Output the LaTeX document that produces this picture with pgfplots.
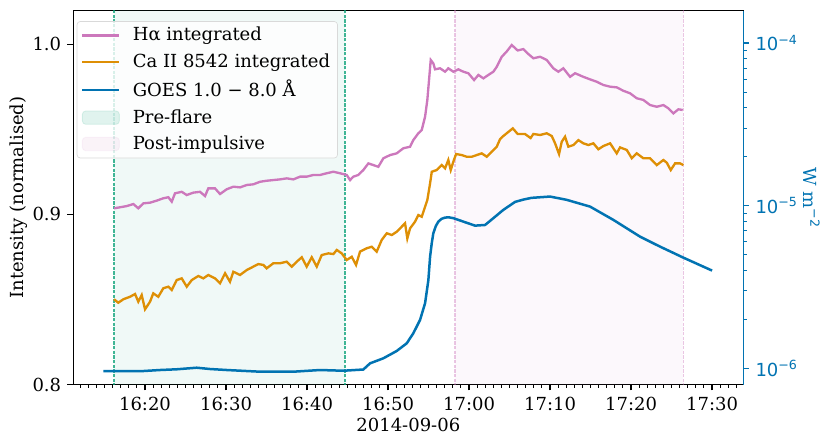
\documentclass[border=0pt]{standalone}
\usepackage{fontspec}
\setmainfont{DejaVu Serif}
\setsansfont{DejaVu Sans}
\usepackage{pgfplots}
\pgfplotsset{compat=1.18}
\definecolor{pinkc}{HTML}{CC78BC}
\definecolor{orangec}{HTML}{DE8F05}
\definecolor{bluec}{HTML}{0173B2}
\definecolor{greenc}{HTML}{029E73}
\begin{document}
\fontsize{10.8}{13}\selectfont
\begin{tikzpicture}
\begin{axis}[name=main, scale only axis, width=402pt, height=224.3pt,
  xmin=11.15, xmax=93.86, ymin=0.8, ymax=1.0198,
  axis line style={line width=0.8pt, black},
  xtick={20,30,40,50,60,70,80,90},
  xticklabels={16:20,16:30,16:40,16:50,17:00,17:10,17:20,17:30},
  minor xtick={12,13,...,93},
  ytick={0.8,0.9,1.0}, yticklabels={0.8,0.9,1.0},
  xtick pos=bottom, ytick pos=left,
  tick align=outside, major tick length=3.5pt, minor tick length=2pt,
  major tick style={black, line width=0.8pt},
  minor tick style={black, line width=0.6pt},
  xlabel={2014-09-06}, ylabel={Intensity (normalised)},
  xlabel style={at={(axis description cs:0.5,-0.108)}, anchor=center},
  ylabel style={at={(axis description cs:-0.0821,0.5)}, anchor=center},
  /pgf/number format/assume math mode=true,
  legend cell align=left,
  legend style={at={(axis description cs:0.005,0.972)}, anchor=north west,
    draw=black!15, rounded corners=2pt, fill=white, fill opacity=0.8, text opacity=1,
    inner xsep=2.5pt, inner ysep=2pt, row sep=3pt, column sep=5.4pt,
    nodes={inner ysep=1.5pt}},
]
\addlegendimage{legend image code/.code={\draw[pinkc,line width=1.4pt] (0pt,0pt) -- (22.2pt,0pt);}}
\addlegendentry{Hα integrated}
\addlegendimage{legend image code/.code={\draw[orangec,line width=1.4pt] (0pt,0pt) -- (22.2pt,0pt);}}
\addlegendentry{Ca II 8542 integrated}
\addlegendimage{legend image code/.code={\draw[bluec,line width=1.4pt] (0pt,0pt) -- (22.2pt,0pt);}}
\addlegendentry{GOES 1.0 − 8.0 Å}
\addlegendimage{legend image code/.code={\path[fill=greenc, fill opacity=0.12, draw=greenc, draw opacity=0.12, line width=0.5pt] (0pt,-4pt) rectangle (22.2pt,4pt);}}
\addlegendentry{Pre-flare}
\addlegendimage{legend image code/.code={\path[fill=pinkc, fill opacity=0.09, draw=pinkc, draw opacity=0.08, line width=0.5pt] (0pt,-4pt) rectangle (22.2pt,4pt);}}
\addlegendentry{Post-impulsive}

% shaded intervals
\addplot[forget plot, draw=none, fill=greenc, fill opacity=0.06] coordinates {(16.17,0.7) (44.7,0.7) (44.7,1.1) (16.17,1.1)} -- cycle;
\addplot[forget plot, draw=none, fill=pinkc, fill opacity=0.05] coordinates {(58.27,0.7) (86.46,0.7) (86.46,1.1) (58.27,1.1)} -- cycle;
\addplot[forget plot, greenc, draw opacity=0.75, line width=0.8pt, dash pattern=on 1.9pt off 0.9pt] coordinates {(16.17,0.7) (16.17,1.1)};
\addplot[forget plot, greenc, draw opacity=0.75, line width=0.8pt, dash pattern=on 1.9pt off 0.9pt] coordinates {(44.7,0.7) (44.7,1.1)};
\addplot[forget plot, pinkc, draw opacity=0.42, line width=0.7pt, dash pattern=on 1.9pt off 0.9pt] coordinates {(58.27,0.7) (58.27,1.1)};
\addplot[forget plot, pinkc, draw opacity=0.42, line width=0.7pt, dash pattern=on 1.9pt off 0.9pt] coordinates {(86.46,0.7) (86.46,1.1)};

% H-alpha
\addplot[forget plot, pinkc, line width=1.4pt] coordinates {
(16.17,0.9036)(16.91,0.9042)(17.74,0.9049)(18.56,0.9061)(19.17,0.9036)(19.79,0.9065)(20.62,0.9069)(21.44,0.9081)(22.26,0.9095)(22.88,0.9101)(23.30,0.9075)(23.70,0.9124)(24.53,0.9133)(25.15,0.9114)(25.96,0.9128)(26.79,0.9133)(27.41,0.9108)(27.81,0.9153)(28.64,0.9153)(29.26,0.9120)(30.09,0.9148)(30.90,0.9163)(31.73,0.9159)(32.56,0.9173)(33.37,0.9177)(34.20,0.9192)(35.02,0.9198)(35.84,0.9202)(36.67,0.9206)(37.49,0.9212)(38.31,0.9206)(39.14,0.9222)(39.96,0.9222)(40.78,0.9232)(41.60,0.9232)(42.43,0.9242)(43.25,0.9251)(44.07,0.9242)(44.90,0.9232)(45.31,0.9202)(45.72,0.9222)(46.33,0.9232)(46.95,0.9261)(47.57,0.9300)(48.19,0.9290)(48.80,0.9280)(49.42,0.9330)(50.25,0.9349)(51.07,0.9359)(51.89,0.9389)(52.72,0.9398)(53.12,0.9437)(53.74,0.9477)(54.16,0.9496)(54.57,0.9574)(54.85,0.9673)(55.06,0.9790)(55.27,0.9908)(55.59,0.9888)(55.80,0.9853)(56.42,0.9859)(57.04,0.9839)(57.44,0.9859)(58.06,0.9839)(58.68,0.9853)(59.30,0.9839)(59.91,0.9830)(60.62,0.9790)(61.15,0.9820)(61.77,0.9800)(62.38,0.9820)(63.00,0.9839)(63.42,0.9868)(64.04,0.9927)(64.65,0.9958)(65.27,0.9996)(66.0,0.9964)(66.7,0.9972)(67.32,0.9943)(67.94,0.9918)(68.77,0.9927)(69.59,0.9908)(70.41,0.9859)(71.02,0.9839)(71.64,0.9859)(72.47,0.9809)(73.09,0.9830)(74.11,0.9809)(74.94,0.9794)(75.77,0.9780)(76.58,0.9761)(77.41,0.9751)(78.23,0.9747)(79.05,0.9727)(79.88,0.9712)(80.70,0.9683)(81.52,0.9673)(82.35,0.9643)(83.17,0.9633)(83.99,0.9643)(84.60,0.9624)(85.22,0.9594)(85.84,0.9618)(86.38,0.9614)
};
% Ca II 8542
\addplot[forget plot, orangec, line width=1.4pt] coordinates {
(16.17,0.8501)(16.70,0.8481)(17.32,0.8501)(18.15,0.8516)(18.77,0.8532)(19.17,0.8487)(19.59,0.8526)(20.00,0.8442)(20.62,0.8487)(21.02,0.8536)(21.64,0.8516)(22.26,0.8566)(22.88,0.8575)(23.30,0.8556)(23.91,0.8614)(24.53,0.8624)(25.15,0.8575)(25.77,0.8614)(26.58,0.8638)(27.20,0.8624)(27.81,0.8644)(28.64,0.8624)(29.26,0.8595)(29.88,0.8654)(30.49,0.8604)(30.90,0.8663)(31.73,0.8644)(32.56,0.8673)(33.37,0.8693)(33.99,0.8708)(34.60,0.8703)(35.02,0.8683)(35.84,0.8713)(36.67,0.8713)(37.49,0.8722)(38.11,0.8693)(38.73,0.8722)(39.35,0.8748)(39.96,0.8693)(40.58,0.8748)(41.20,0.8693)(41.81,0.8761)(42.63,0.8771)(43.25,0.8767)(43.67,0.8791)(44.28,0.8771)(44.90,0.8732)(45.52,0.8751)(46.05,0.8703)(46.54,0.8781)(47.37,0.8801)(47.99,0.8810)(48.60,0.8781)(49.22,0.8850)(49.84,0.8889)(50.46,0.8879)(51.07,0.8898)(51.69,0.8928)(52.10,0.8948)(52.38,0.8859)(52.72,0.8918)(53.33,0.8957)(53.74,0.8996)(54.16,0.8986)(54.57,0.9045)(54.85,0.9085)(55.19,0.9183)(55.40,0.9251)(56.01,0.9261)(56.63,0.9290)(57.04,0.9271)(57.44,0.9320)(57.74,0.9261)(58.06,0.9310)(58.40,0.9355)(59.10,0.9349)(59.72,0.9339)(60.33,0.9339)(60.95,0.9349)(61.57,0.9359)(62.19,0.9339)(62.80,0.9369)(63.42,0.9398)(63.83,0.9443)(64.23,0.9461)(64.75,0.9481)(65.40,0.9506)(66.0,0.9473)(66.9,0.9473)(67.6,0.9449)(67.94,0.9473)(68.77,0.9467)(69.59,0.9477)(70.21,0.9461)(70.62,0.9418)(71.11,0.9355)(71.44,0.9427)(71.85,0.9457)(72.26,0.9398)(72.88,0.9408)(73.49,0.9437)(74.11,0.9418)(74.73,0.9408)(75.35,0.9418)(75.96,0.9383)(76.58,0.9402)(77.41,0.9418)(78.23,0.9359)(78.64,0.9394)(79.47,0.9379)(80.09,0.9330)(80.70,0.9359)(81.52,0.9330)(82.35,0.9330)(83.17,0.9290)(83.99,0.9320)(84.41,0.9304)(84.90,0.9261)(85.43,0.9300)(86.05,0.9300)(86.46,0.9290)
};
\end{axis}
\begin{axis}[scale only axis, width=402pt, height=224.3pt,
  xmin=11.15, xmax=93.86, ymode=log, ymin=7.95e-7, ymax=1.582e-4,
  axis x line=none, axis y line*=right,
  y axis line style={bluec, line width=1pt},
  ytick={1e-6,1e-5,1e-4},
  yticklabels={{\sffamily 10\textsuperscript{−6}},{\sffamily 10\textsuperscript{−5}},{\sffamily 10\textsuperscript{−4}}},
  yticklabel style={text=bluec},
  tick align=outside, major tick length=3.5pt, minor tick length=2pt,
  major tick style={bluec, line width=0.8pt},
  minor tick style={bluec, line width=0.6pt},
  ylabel={W m\textsuperscript{\sffamily −2}},
  ylabel style={text=bluec, rotate=180, at={(axis description cs:1.102,0.5)}, anchor=center},
]
\addplot[bluec, line width=1.5pt] coordinates {
(14.85,9.62e-7)(19.79,9.62e-7)(21.85,9.76e-7)(23.91,9.86e-7)(26.38,1.0085e-6)(28.02,9.90e-7)(30.09,9.76e-7)(34.20,9.53e-7)(38.31,9.53e-7)(41.60,9.76e-7)(44.48,9.66e-7)(46.95,9.83e-7)(47.78,1.073e-6)(49.42,1.152e-6)(51.07,1.278e-6)(52.31,1.425e-6)(53.12,1.642e-6)(53.95,1.983e-6)(54.57,2.512e-6)(54.98,3.494e-6)(55.19,4.86e-6)(55.40,5.9e-6)(55.59,6.77e-6)(55.9,7.5e-6)(56.21,7.98e-6)(56.6,8.3e-6)(57.04,8.45e-6)(57.5,8.48e-6)(58.06,8.38e-6)(59.30,7.98e-6)(60.74,7.54e-6)(61.98,7.61e-6)(63.00,8.38e-6)(64.23,9.42e-6)(65.68,1.055e-5)(66.7,1.09e-5)(67.7,1.117e-5)(70.0,1.138e-5)(72.06,1.086e-5)(74.94,9.87e-6)(77.81,8.18e-6)(81.11,6.45e-6)(83.58,5.60e-6)(86.46,4.79e-6)(90.0,3.99e-6)
};
\end{axis}
\pgfresetboundingbox
\path ([xshift=-44pt,yshift=-37.5pt]main.south west) rectangle ([xshift=52pt,yshift=6.4pt]main.north east);
\end{tikzpicture}
\end{document}
